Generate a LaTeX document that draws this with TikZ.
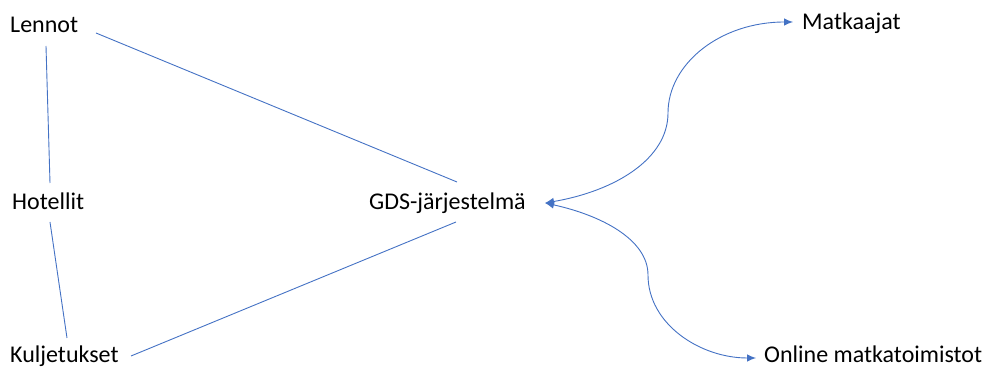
\documentclass[tikz,border=0pt]{standalone}
\usepackage{fontspec}
\setmainfont{Carlito}
\usetikzlibrary{arrows.meta}
\definecolor{lineblue}{HTML}{4472C4}
\begin{document}
\begin{tikzpicture}[x=1pt,y=1pt,
  lbl/.style={anchor=base west,inner sep=0pt,font=\fontsize{24}{28}\selectfont},
  conn/.style={draw=lineblue,line width=0.9pt},
  biarrow/.style={conn,{Latex[length=9pt,width=7.5pt]}-{Latex[length=9pt,width=7.5pt]}}]
\useasboundingbox (0,0) rectangle (988,369);
\node[lbl] (lennot) at (10,336) {Lennot};
\node[lbl] (hotellit) at (12,159) {Hotellit};
\node[lbl] (kulj) at (10,6) {Kuljetukset};
\node[lbl] (gds) at (369,159) {GDS-järjestelmä};
\node[lbl] (matk) at (802,339) {Matkaajat};
\node[lbl] (online) at (764,6) {Online matkatoimistot};
% connector end points
\coordinate (lenB) at (46,323);
\coordinate (hotT) at (50,186);
\coordinate (hotB) at (50,147);
\coordinate (kulT) at (67,31);
\coordinate (lenR) at (96,336);
\coordinate (gdsT) at (457,187);
\coordinate (kulR) at (131,13);
\coordinate (gdsB) at (456,147);
\coordinate (gdsR) at (545,166);
\coordinate (upMid) at (668,256);
\coordinate (matkL) at (793,347);
\coordinate (loMid) at (648,94);
\coordinate (onlL) at (756,11);
\draw[conn] (lenB) -- (hotT);
\draw[conn] (hotB) -- (kulT);
\draw[conn] (lenR) -- (gdsT);
\draw[conn] (kulR) -- (gdsB);
\draw[biarrow] (gdsR) .. controls (615,178) and (668,210) .. (upMid)
  .. controls (668,305) and (720,347) .. (matkL);
\draw[biarrow] (gdsR) .. controls (600,154) and (648,130) .. (loMid)
  .. controls (648,45) and (700,11) .. (onlL);
\end{tikzpicture}
\end{document}
